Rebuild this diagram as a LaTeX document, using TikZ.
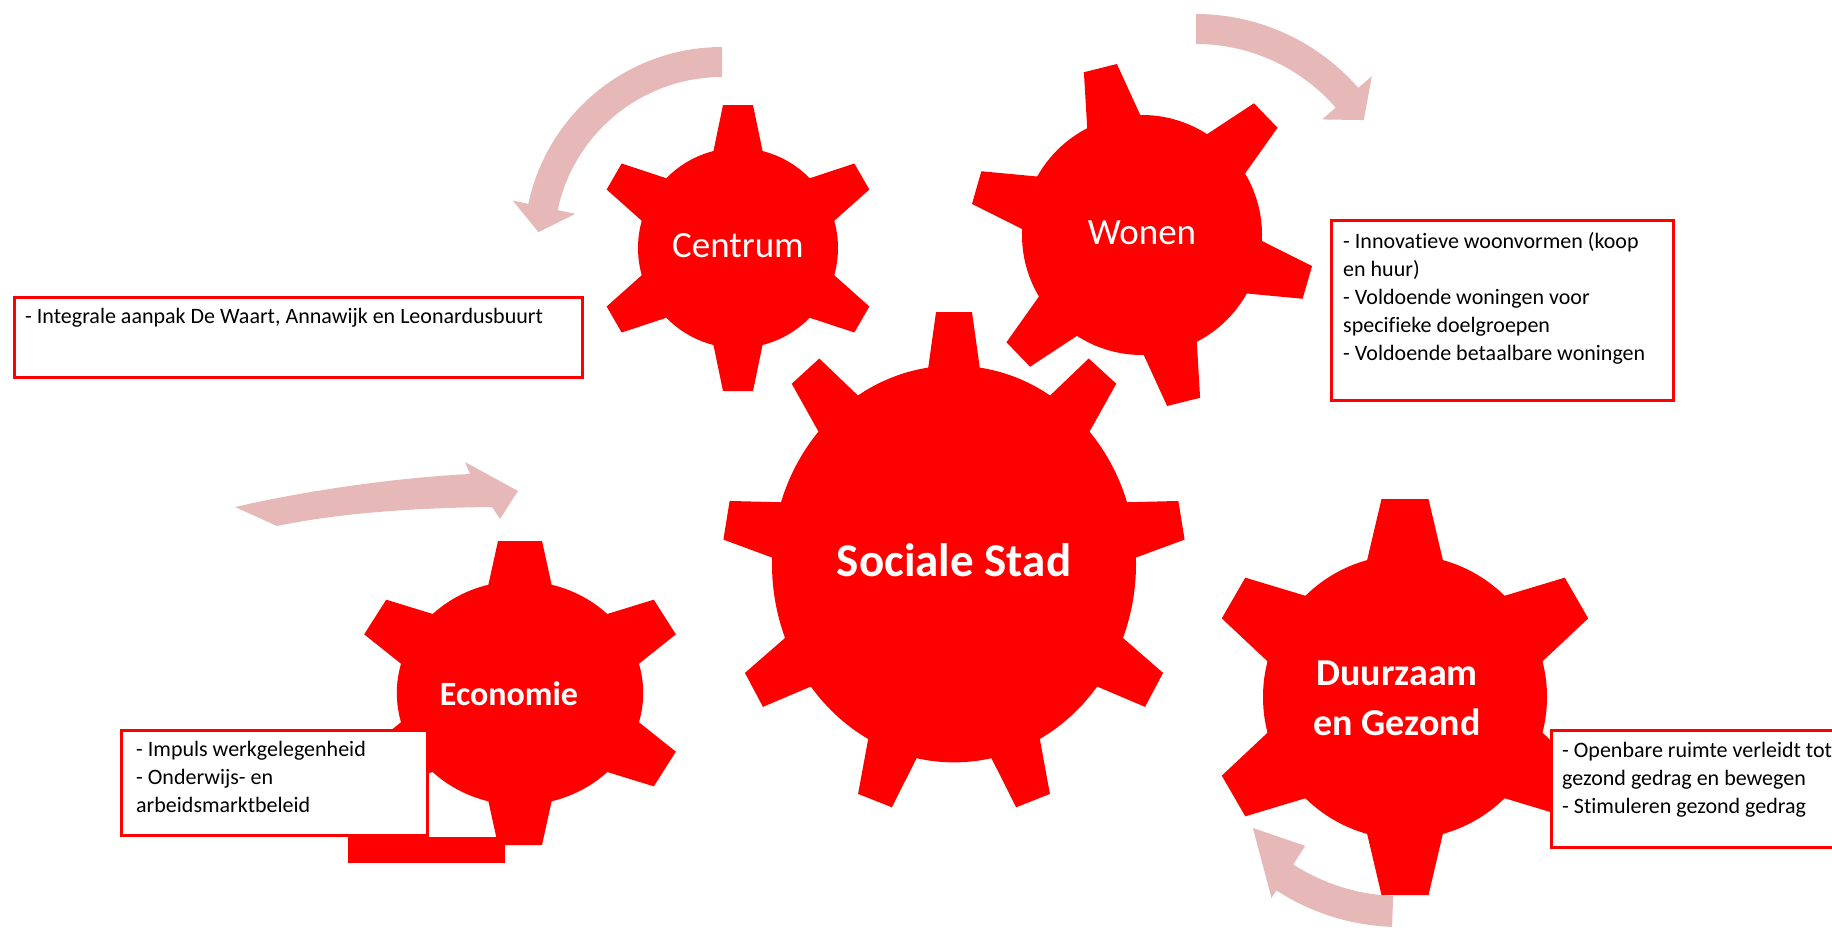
\documentclass[tikz,border=0pt]{standalone}
\usepackage{fontspec}
\setmainfont{Carlito}[Ligatures=NoCommon]
\definecolor{cogred}{HTML}{FF0000}
\definecolor{arrowpink}{HTML}{E6B9B8}
\definecolor{boxred}{HTML}{FF0000}
\newcommand{\boxfont}{\fontsize{22}{28}\selectfont}

\begin{document}
\begin{tikzpicture}[x=1pt, y=1pt,
    cog/.style={fill=cogred},
    turn/.style={fill=arrowpink},
    infobox/.style={draw=boxred, line width=3pt, fill=white, inner sep=0pt, anchor=north west},
    infotext/.style={anchor=north west, inner sep=0pt, align=left, font=\boxfont},
    coglabel/.style={text=white, inner sep=0pt, align=center}]
  \useasboundingbox (0,0) rectangle (1832,-932);
  \clip (0,0) rectangle (1832,-932);

  % turning arrows
  \fill[turn, shift={(722,-245)}] (90:198) arc[start angle=90, end angle=168, radius=198]
    -- (168:214) -- (176:184) -- (168:150) -- (168:168) arc[start angle=168, end angle=90, radius=168] -- cycle;
  \fill[turn, shift={(1196,-229)}] (90:215) arc[start angle=90, end angle=41, radius=215]
    -- (41:233) -- (33:200) -- (41:167) -- (41:185) arc[start angle=41, end angle=90, radius=185] -- cycle;
  \fill[turn, shift={(1400,-700)}] (268:227) arc[start angle=268, end angle=237, radius=227]
    -- (237:236) -- (221:195) -- (237:174) -- (237:196) arc[start angle=237, end angle=268, radius=196] -- cycle;
  \fill[turn] (235,-507) .. controls (300,-492) and (390,-478) .. (470,-474) -- (465,-462) -- (518,-491)
    -- (500,-519) -- (492,-507) .. controls (400,-508) and (330,-515) .. (277,-526) -- cycle;

  % gears
  \coordinate (centrumc) at (738,-248);
  \fill[cog] (centrumc) circle (100);
  \foreach \a in {30,90,...,330}
    \fill[cog, shift={(centrumc)}, rotate=\a] (90,-26) -- (143,-15) -- (143,15) -- (90,26) -- cycle;
  \node[coglabel, font=\fontsize{37}{44}\selectfont] (centrum) at (738,-246) {Centrum};

  \coordinate (wonenc) at (1142,-235);
  \fill[cog] (wonenc) circle (120);
  \foreach \a in {44,104,...,344}
    \fill[cog, shift={(wonenc)}, rotate=\a] (108,-29) -- (172,-17) -- (172,17) -- (108,29) -- cycle;
  \node[coglabel, font=\fontsize{37}{44}\selectfont] (wonen) at (1142,-233) {Wonen};

  \coordinate (stadc) at (954,-564);
  \begin{scope}[shift={(stadc)}, yscale=1.09]
    \fill[cog] (0,0) circle (182);
    \foreach \a in {90,130,...,410}
      \fill[cog, rotate=\a] (172,-27) -- (231,-18) -- (231,18) -- (172,27) -- cycle;
  \end{scope}
  \node[coglabel, font=\fontsize{47}{56}\selectfont\bfseries] (stad) at (954,-560) {Sociale Stad};

  \coordinate (duurzaamc) at (1405,-697);
  \fill[cog] (duurzaamc) circle (142);
  \foreach \a in {30,90,...,330}
    \fill[cog, shift={(duurzaamc)}, rotate=\a] (132,-39) -- (198,-23.5) -- (198,23.5) -- (132,39) -- cycle;
  \node[coglabel, font=\fontsize{38}{50}\selectfont\bfseries] (duurzaam) at (1397,-698) {Duurzaam\\en Gezond};

  \coordinate (economiec) at (520,-693);
  \begin{scope}[shift={(economiec)}, xscale=1.1]
    \fill[cog] (0,0) circle (112);
    \foreach \a in {30,90,...,330}
      \fill[cog, rotate=\a] (102,-30) -- (152,-20) -- (152,20) -- (102,30) -- cycle;
  \end{scope}
  \fill[cog] (348,-837) rectangle (505,-863);
  \node[coglabel, font=\fontsize{34}{40}\selectfont\bfseries] (economie) at (509,-694) {Economie};

  % boxes
  \node[infobox, minimum width=568, minimum height=80] (centrumbox) at (12.5,-295.5) {};
  \node[infotext] (centrumtext) at ([shift={(12.5,-13)}]centrumbox.north west)
    {- Integrale aanpak De Waart, Annawijk en Leonardusbuurt};

  \node[infobox, minimum width=342, minimum height=180] (wonenbox) at (1329.5,-218.5) {};
  \node[infotext] (wonentext) at ([shift={(13.5,-14)}]wonenbox.north west)
    {- Innovatieve woonvormen (koop\\en huur)\\- Voldoende woningen voor\\specifieke doelgroepen\\- Voldoende betaalbare woningen};

  \node[infobox, minimum width=306, minimum height=105] (economiebox) at (119.5,-728.5) {};
  \node[infotext] (economietext) at ([shift={(16.5,-13)}]economiebox.north west)
    {- Impuls werkgelegenheid\\- Onderwijs- en\\arbeidsmarktbeleid};

  \node[infobox, minimum width=400, minimum height=117] (duurzaambox) at (1549.5,-728.5) {};
  \node[infotext] (duurzaamtext) at ([shift={(12.5,-14)}]duurzaambox.north west)
    {- Openbare ruimte verleidt tot\\gezond gedrag en bewegen\\- Stimuleren gezond gedrag};
\end{tikzpicture}
\end{document}
